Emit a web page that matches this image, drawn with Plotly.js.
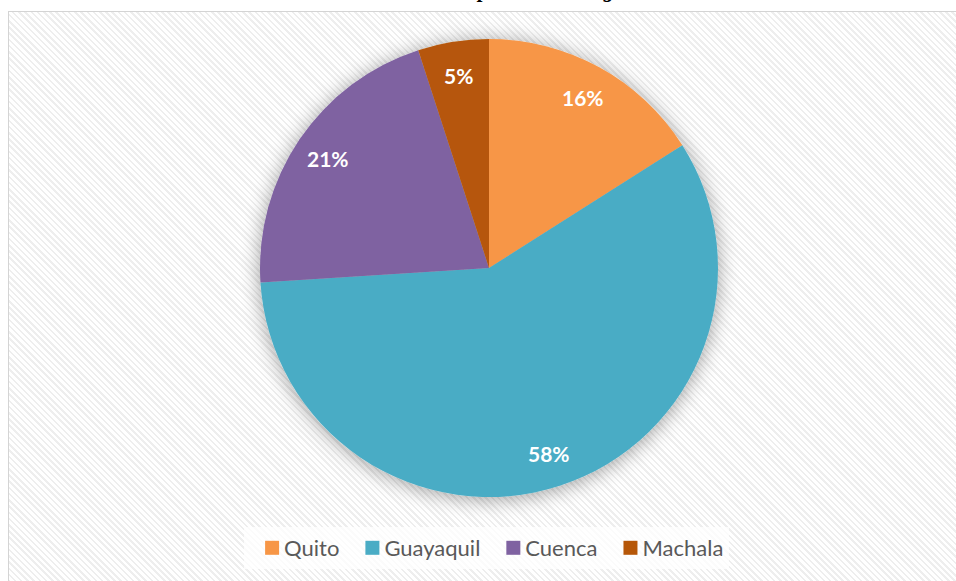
<!DOCTYPE html>
<html>
<head>
<meta charset="utf-8">
<script src="https://cdn.plot.ly/plotly-3.0.1.min.js"></script>
<style>
  html, body { margin:0; padding:0; background:#ffffff; }
  #frame {
    position:absolute; left:8px; top:11px; width:960px; height:580px;
    border-left:1px solid #d4d4d4; border-top:1px solid #d4d4d4;
    background: repeating-linear-gradient(45deg, #ffffff 0px, #ffffff 2.6px, #eeeeee 2.6px, #eeeeee 4.4px);
  }
  #chart { position:absolute; left:0; top:0; width:956px; height:581px; }
</style>
</head>
<body>
<svg width="0" height="0" style="position:absolute">
  <defs>
    <filter id="pieShadow" x="-25%" y="-25%" width="150%" height="150%">
      <feGaussianBlur in="SourceAlpha" stdDeviation="10"/>
      <feOffset dx="0" dy="2" result="blur"/>
      <feComponentTransfer><feFuncA type="linear" slope="0.38"/></feComponentTransfer>
      <feMerge><feMergeNode/><feMergeNode in="SourceGraphic"/></feMerge>
    </filter>
  </defs>
</svg>
<div id="frame"></div>
<div id="chart"></div>
<script>
const cities = ['Quito', 'Guayaquil', 'Cuenca', 'Machala'];
const shares = [16, 58, 21, 5];
const colors = ['#F79646', '#4AACC5', '#7F62A1', '#B65708'];
const titleText = 'Distribución de empresas en la región';

const W = 956, H = 581;
const domX = [260 / W, 718 / W];
const domY = [1 - 497 / H, 1 - 39 / H];

// label annotations placed from the data (mid-angle of each slice)
const total = shares.reduce((a, b) => a + b, 0);
const cxP = (domX[0] + domX[1]) / 2, cyP = (domY[0] + domY[1]) / 2;
const rxP = (domX[1] - domX[0]) / 2, ryP = (domY[1] - domY[0]) / 2;
const labelR = 0.85;
let cum = 0;
const annotations = shares.map((v) => {
  const mid = (cum + v / 2) / total;
  cum += v;
  const th = 2 * Math.PI * mid;
  return {
    x: cxP + labelR * rxP * Math.sin(th),
    y: cyP + labelR * ryP * Math.cos(th),
    xref: 'paper', yref: 'paper', showarrow: false,
    text: '<b>' + Math.round(100 * v / total) + '%</b>',
    font: { family: 'Lato, "Open Sans", sans-serif', size: 21, color: '#ffffff' },
    xanchor: 'center', yanchor: 'middle'
  };
});

const data = [{
  type: 'pie',
  labels: cities,
  values: shares,
  sort: false,
  direction: 'clockwise',
  rotation: 0,
  textinfo: 'none',
  hoverinfo: 'label+percent',
  marker: { colors: colors, line: { width: 0 } },
  domain: { x: domX, y: domY }
}];

const layout = {
  width: W, height: H,
  margin: { l: 0, r: 0, t: 0, b: 0 },
  paper_bgcolor: 'rgba(0,0,0,0)',
  plot_bgcolor: 'rgba(0,0,0,0)',
  title: {
    text: '<b><i>' + titleText + '</i></b>',
    font: { family: '"Liberation Serif", serif', size: 21, color: '#000000' },
    x: 0.5, xref: 'paper', xanchor: 'center',
    y: 1, yref: 'container', yanchor: 'bottom',
    pad: { b: 3 }
  },
  showlegend: true,
  legend: {
    orientation: 'h',
    x: 0.509, xanchor: 'center',
    y: (H - 548) / H, yanchor: 'middle',
    bgcolor: 'rgba(255,255,255,0.75)',
    font: { family: 'Lato, "Open Sans", sans-serif', size: 22, color: '#595959' },
    itemwidth: 30
  },
  annotations: annotations
};

Plotly.newPlot('chart', data, layout, { displayModeBar: false, staticPlot: true }).then(() => {
  document.querySelectorAll('.pielayer .trace').forEach(g => g.setAttribute('filter', 'url(#pieShadow)'));
  // larger square legend swatches placed close to their text, as in the reference
  document.querySelectorAll('.legend .legendpoints path').forEach(p => {
    p.setAttribute('d', 'M15,7H1V-7H15Z');
    p.style.strokeWidth = '0';
  });
});
</script>
</body>
</html>
